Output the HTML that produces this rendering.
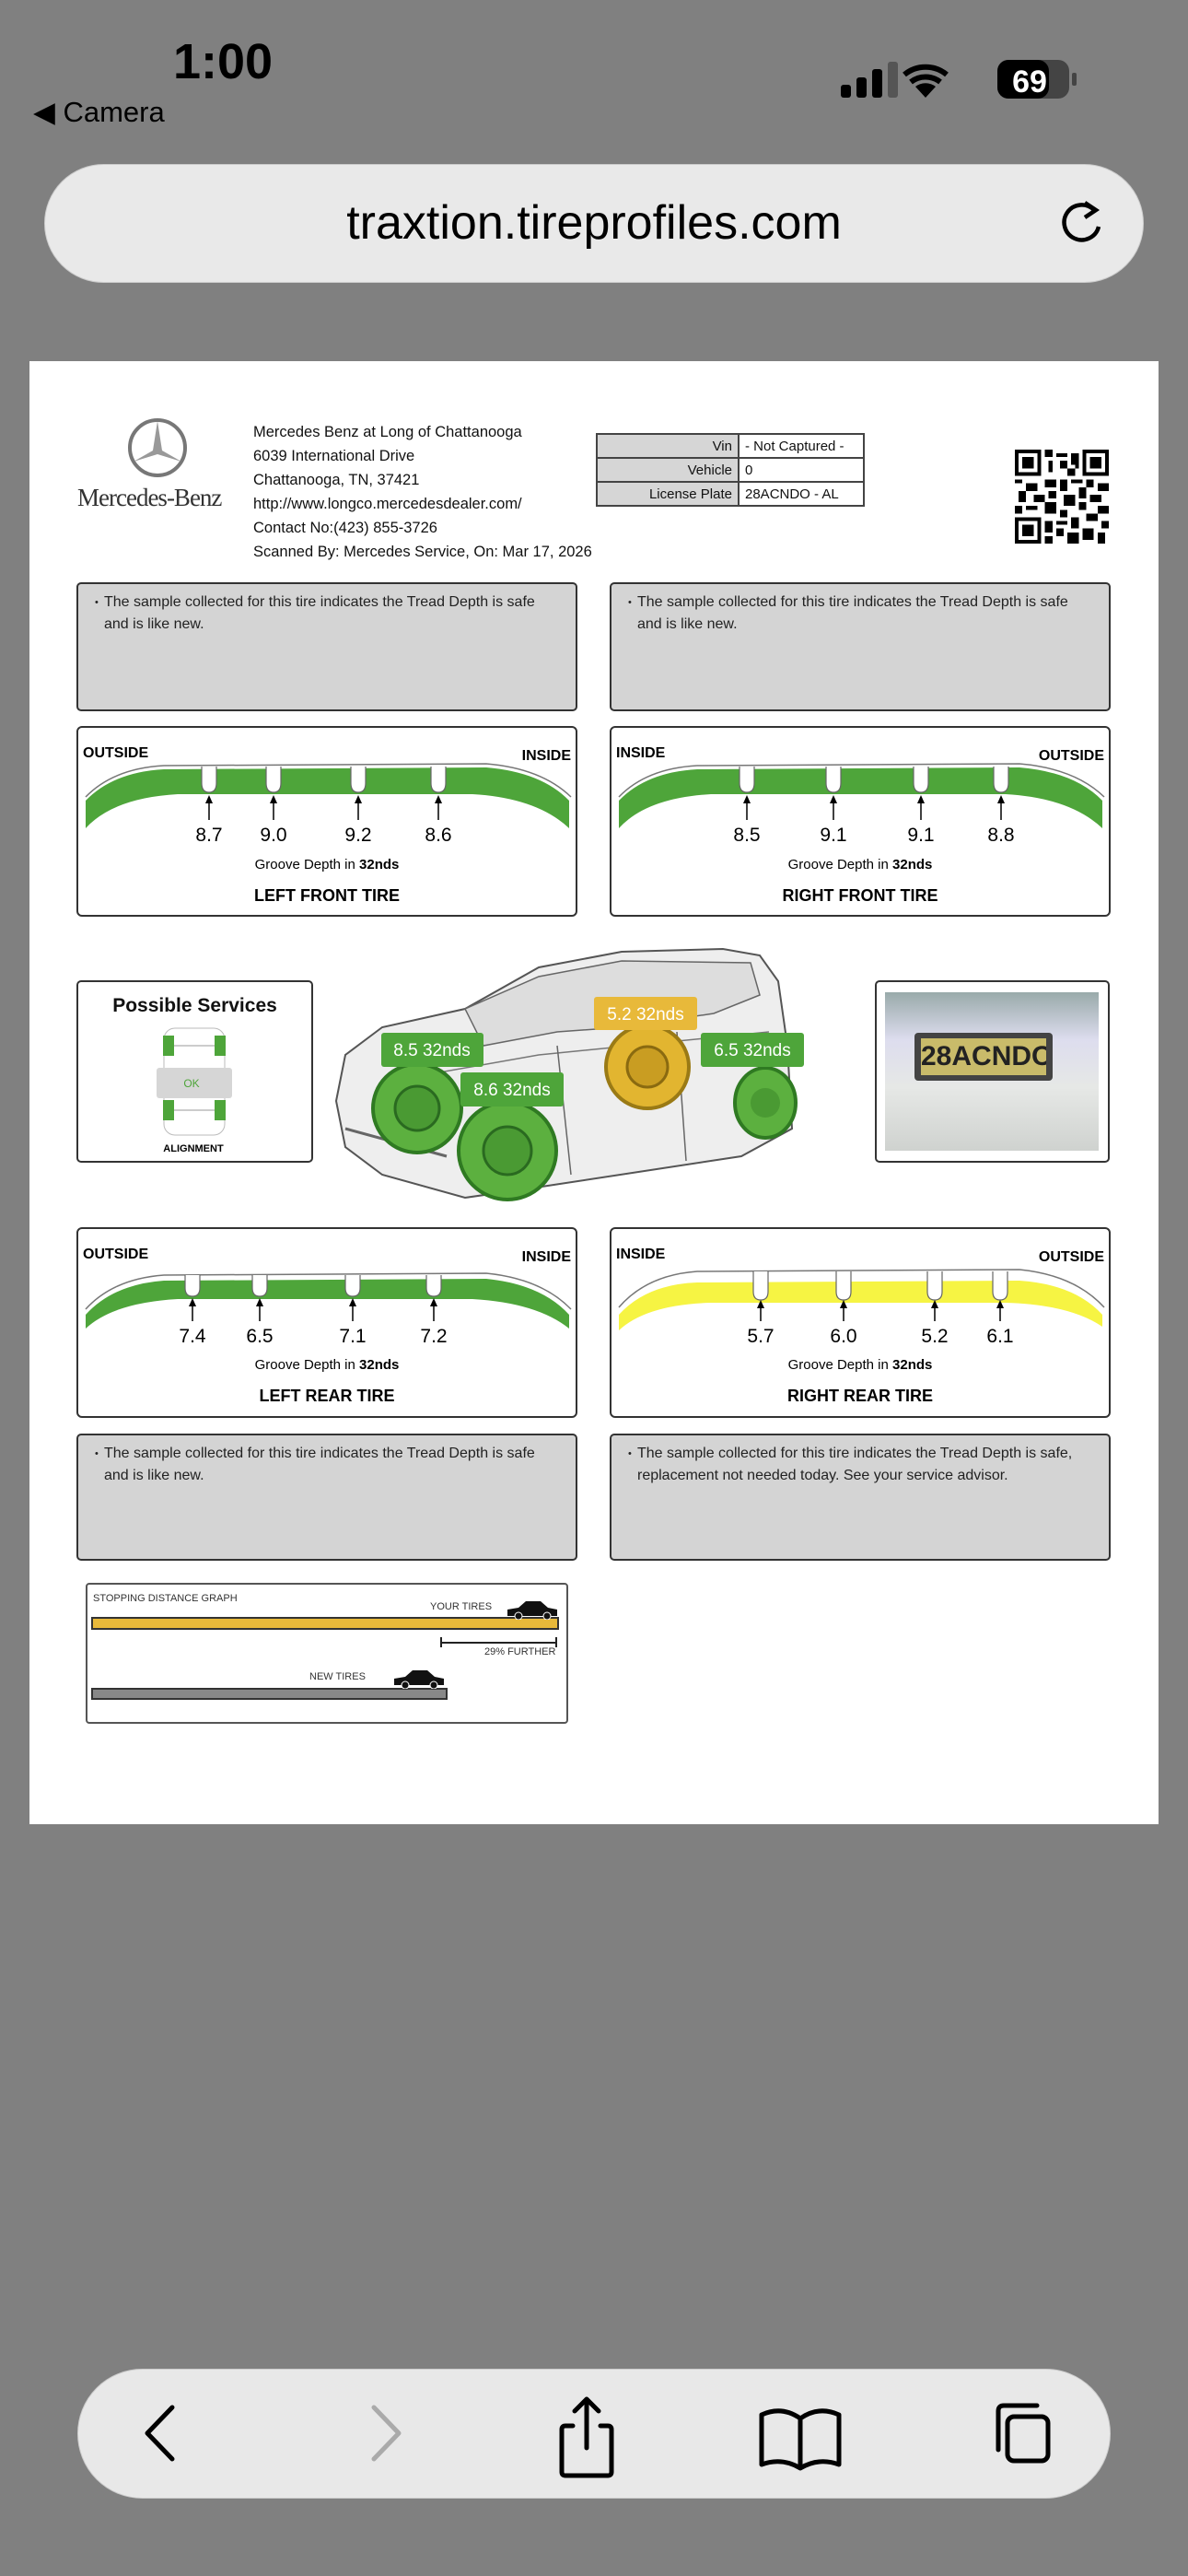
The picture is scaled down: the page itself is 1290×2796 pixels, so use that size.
<!DOCTYPE html>
<html><head><meta charset="utf-8"><style>
*{margin:0;padding:0;box-sizing:border-box}
body{width:1290px;height:2796px;background:#808080;position:relative;overflow:hidden;font-family:"Liberation Sans",sans-serif;color:#111}
.a{position:absolute}
.page{left:32px;top:392px;width:1226px;height:1588px;background:#fff}
.note{background:#d4d4d4;border:2px solid #333;border-radius:5px;font-size:16px;line-height:24px;padding:8px 14px 0 28px;color:#222}
.note span{position:relative}
.note span:before{content:"•";position:absolute;left:-10px;font-size:11px}
.box{background:#fff;border:2px solid #333;border-radius:5px}
.tbl{border-collapse:collapse;font-size:15px}
.tbl td{border:2px solid #444;height:26px;padding:0 6px}
.tbl td.l{background:#d6d6d6;text-align:right;width:154px}
.tbl td.r{width:136px;background:#fff}
</style></head><body>
<div class="a" style="left:188px;top:36px;font-size:54px;font-weight:bold;color:#000">1:00</div>
<div class="a" style="left:36px;top:104px;font-size:31px;color:#000">◀ Camera</div>
<svg class="a" style="left:910px;top:62px" width="260" height="50">
<rect x="3" y="30" width="11" height="14" rx="3"/><rect x="20" y="22" width="11" height="22" rx="3"/><rect x="37" y="13" width="11" height="31" rx="3"/><rect x="54" y="5" width="11" height="39" rx="3" fill="#555"/>
<path d="M95 44 L84 32 A18 18 0 0 1 106 32 Z" fill="#000"/><path d="M79 27 A26 26 0 0 1 111 27" stroke="#000" stroke-width="6" fill="none"/><path d="M72 19 A36 36 0 0 1 118 19" stroke="#000" stroke-width="6" fill="none"/>
<rect x="173" y="3" width="78" height="42" rx="12" fill="#444"/><rect x="173" y="3" width="56" height="42" rx="12" fill="#000"/><rect x="254" y="17" width="5" height="14" rx="2" fill="#444"/>
<text x="208" y="38" font-size="34" font-weight="bold" fill="#fff" text-anchor="middle" font-family="Liberation Sans">69</text></svg>
<div class="a" style="left:48px;top:178px;width:1194px;height:129px;border-radius:65px;background:#e9e9e9;border:1px solid #ccc"></div>
<div class="a" style="left:48px;top:212px;width:1194px;text-align:center;font-size:52px;color:#000">traxtion.tireprofiles.com</div>
<svg class="a" style="left:1148px;top:214px" width="54" height="54"><path d="M40 14 A19 19 0 1 0 45 32" stroke="#000" stroke-width="4.5" fill="none"/><path d="M30 6 L42 14 L30 22" stroke="#000" stroke-width="4.5" fill="none"/></svg>
<div class="a page"></div>
<svg class="a" style="left:138px;top:453px" width="66" height="66"><circle cx="33" cy="33" r="30" fill="none" stroke="#777" stroke-width="4"/><path d="M33 4 L38 36 L59 48 L33 40 L7 48 L28 36 Z" fill="#999"/></svg>
<div class="a" style="left:84px;top:525px;font-family:'Liberation Serif',serif;font-size:27px;color:#333;letter-spacing:-1px">Mercedes-Benz</div>
<div class="a" style="left:275px;top:456px;font-size:16.5px;line-height:26px;color:#111">Mercedes Benz at Long of Chattanooga<br>6039 International Drive<br>Chattanooga, TN, 37421<br>http://www.longco.mercedesdealer.com/<br>Contact No:(423) 855-3726<br>Scanned By: Mercedes Service, On: Mar 17, 2026</div>
<table class="a tbl" style="left:647px;top:470px"><tr><td class="l">Vin</td><td class="r">- Not Captured -</td></tr><tr><td class="l">Vehicle</td><td class="r">0</td></tr><tr><td class="l">License Plate</td><td class="r">28ACNDO - AL</td></tr></table>
<svg class="a" style="left:1102px;top:487px" width="102" height="104" viewBox="0 0 25 25" shape-rendering="crispEdges">
<rect width="25" height="25" fill="#fff"/>
<path d="M0 0h7v7h-7zM1 1v5h5v-5zM2 2h3v3h-3zM18 0h7v7h-7zM19 1v5h5v-5zM20 2h3v3h-3zM0 18h7v7h-7zM1 19v5h5v-5zM2 20h3v3h-3z" fill="#000" fill-rule="evenodd"/>
<path d="M8 0h2v2h-2zM11 1h3v1h-3zM9 3h1v3h-1zM12 3h2v2h-2zM15 1h2v3h-2zM14 5h2v2h-2zM8 8h3v2h-3zM0 8h2v1h-2zM3 9h3v2h-3zM1 11h2v3h-2zM12 8h2v3h-2zM15 8h3v1h-3zM19 8h2v2h-2zM22 9h3v2h-3zM17 10h2v3h-2zM9 11h2v2h-2zM5 12h3v2h-3zM13 12h3v3h-3zM20 12h3v2h-3zM0 15h2v2h-2zM3 15h3v1h-3zM8 14h3v3h-3zM17 14h2v2h-2zM22 15h3v2h-3zM12 16h2v2h-2zM19 17h3v2h-3zM8 19h2v3h-2zM11 19h3v1h-3zM15 18h2v3h-2zM23 19h2v2h-2zM11 21h2v2h-2zM18 21h3v3h-3zM14 22h3v3h-3zM22 22h2v3h-2zM8 23h2v2h-2zM16 4h1v1h-1z" fill="#000"/></svg>
<div class="a note" style="left:83px;top:632px;width:544px;height:140px"><span>The sample collected for this tire indicates the Tread Depth is safe<br>and is like new.</span></div>
<div class="a note" style="left:662px;top:632px;width:544px;height:140px"><span>The sample collected for this tire indicates the Tread Depth is safe<br>and is like new.</span></div>
<div class="a note" style="left:83px;top:1556px;width:544px;height:138px"><span>The sample collected for this tire indicates the Tread Depth is safe<br>and is like new.</span></div>
<div class="a note" style="left:662px;top:1556px;width:544px;height:138px"><span>The sample collected for this tire indicates the Tread Depth is safe,<br>replacement not needed today. See your service advisor.</span></div>

<svg class="a" style="left:83px;top:788px" width="544" height="207" font-family="Liberation Sans">
<rect x="1" y="1" width="542" height="205" rx="5" fill="#fff" stroke="#333" stroke-width="2"/>
<path d="M10 81 Q40 50 95 47 L445 45 Q505 50 535 81 L535 111 Q500 78 430 74 L110 74 Q40 78 10 111 Z" fill="#4ea53a"/>
<path d="M10 77 Q40 46 95 43 L445 41 Q505 46 537 77" fill="none" stroke="#777" stroke-width="1.5"/>
<g fill="#fff" stroke="#666" stroke-width="1.2"><path d="M136 44 v18 q0 10 8 10 q8 0 8 -10 v-18"/><path d="M206 44 v18 q0 10 8 10 q8 0 8 -10 v-18"/><path d="M298 44 v18 q0 10 8 10 q8 0 8 -10 v-18"/><path d="M385 44 v18 q0 10 8 10 q8 0 8 -10 v-18"/></g>
<g stroke="#000" stroke-width="1.5"><line x1="144" y1="102" x2="144" y2="80"/><line x1="214" y1="102" x2="214" y2="80"/><line x1="306" y1="102" x2="306" y2="80"/><line x1="393" y1="102" x2="393" y2="80"/></g>
<g fill="#000"><path d="M140 84 L144 75 L148 84Z"/><path d="M210 84 L214 75 L218 84Z"/><path d="M302 84 L306 75 L310 84Z"/><path d="M389 84 L393 75 L397 84Z"/></g>
<g font-size="21" text-anchor="middle"><text x="144" y="125">8.7</text><text x="214" y="125">9.0</text><text x="306" y="125">9.2</text><text x="393" y="125">8.6</text></g>
<text x="272" y="155" font-size="15" text-anchor="middle">Groove Depth in <tspan font-weight="bold">32nds</tspan></text>
<text x="272" y="190" font-size="18" font-weight="bold" text-anchor="middle">LEFT FRONT TIRE</text>
<text x="7" y="34" font-size="16" font-weight="bold">OUTSIDE</text><text x="537" y="37" font-size="16" font-weight="bold" text-anchor="end">INSIDE</text>
</svg>
<svg class="a" style="left:662px;top:788px" width="544" height="207" font-family="Liberation Sans">
<rect x="1" y="1" width="542" height="205" rx="5" fill="#fff" stroke="#333" stroke-width="2"/>
<path d="M10 81 Q40 50 95 47 L445 45 Q505 50 535 81 L535 111 Q500 78 430 74 L110 74 Q40 78 10 111 Z" fill="#4ea53a"/>
<path d="M10 77 Q40 46 95 43 L445 41 Q505 46 537 77" fill="none" stroke="#777" stroke-width="1.5"/>
<g fill="#fff" stroke="#666" stroke-width="1.2"><path d="M141 44 v18 q0 10 8 10 q8 0 8 -10 v-18"/><path d="M235 44 v18 q0 10 8 10 q8 0 8 -10 v-18"/><path d="M330 44 v18 q0 10 8 10 q8 0 8 -10 v-18"/><path d="M417 44 v18 q0 10 8 10 q8 0 8 -10 v-18"/></g>
<g stroke="#000" stroke-width="1.5"><line x1="149" y1="102" x2="149" y2="80"/><line x1="243" y1="102" x2="243" y2="80"/><line x1="338" y1="102" x2="338" y2="80"/><line x1="425" y1="102" x2="425" y2="80"/></g>
<g fill="#000"><path d="M145 84 L149 75 L153 84Z"/><path d="M239 84 L243 75 L247 84Z"/><path d="M334 84 L338 75 L342 84Z"/><path d="M421 84 L425 75 L429 84Z"/></g>
<g font-size="21" text-anchor="middle"><text x="149" y="125">8.5</text><text x="243" y="125">9.1</text><text x="338" y="125">9.1</text><text x="425" y="125">8.8</text></g>
<text x="272" y="155" font-size="15" text-anchor="middle">Groove Depth in <tspan font-weight="bold">32nds</tspan></text>
<text x="272" y="190" font-size="18" font-weight="bold" text-anchor="middle">RIGHT FRONT TIRE</text>
<text x="7" y="34" font-size="16" font-weight="bold">INSIDE</text><text x="537" y="37" font-size="16" font-weight="bold" text-anchor="end">OUTSIDE</text>
</svg>
<svg class="a" style="left:83px;top:1332px" width="544" height="207" font-family="Liberation Sans">
<rect x="1" y="1" width="542" height="205" rx="5" fill="#fff" stroke="#333" stroke-width="2"/>
<path d="M10 95 Q40 62 95 58 L445 56 Q505 62 535 95 L535 110 Q500 82 430 78 L110 78 Q40 82 10 110 Z" fill="#4ea53a"/>
<path d="M10 89 Q40 56 95 52 L445 50 Q505 56 537 89" fill="none" stroke="#777" stroke-width="1.5"/>
<g fill="#fff" stroke="#666" stroke-width="1.2"><path d="M118 52 v14 q0 9 8 9 q8 0 8 -9 v-14"/><path d="M191 52 v14 q0 9 8 9 q8 0 8 -9 v-14"/><path d="M292 52 v14 q0 9 8 9 q8 0 8 -9 v-14"/><path d="M380 52 v14 q0 9 8 9 q8 0 8 -9 v-14"/></g>
<g stroke="#000" stroke-width="1.5"><line x1="126" y1="102" x2="126" y2="82"/><line x1="199" y1="102" x2="199" y2="82"/><line x1="300" y1="102" x2="300" y2="82"/><line x1="388" y1="102" x2="388" y2="82"/></g>
<g fill="#000"><path d="M122 86 L126 77 L130 86Z"/><path d="M195 86 L199 77 L203 86Z"/><path d="M296 86 L300 77 L304 86Z"/><path d="M384 86 L388 77 L392 86Z"/></g>
<g font-size="21" text-anchor="middle"><text x="126" y="125">7.4</text><text x="199" y="125">6.5</text><text x="300" y="125">7.1</text><text x="388" y="125">7.2</text></g>
<text x="272" y="154" font-size="15" text-anchor="middle">Groove Depth in <tspan font-weight="bold">32nds</tspan></text>
<text x="272" y="189" font-size="18" font-weight="bold" text-anchor="middle">LEFT REAR TIRE</text>
<text x="7" y="34" font-size="16" font-weight="bold">OUTSIDE</text><text x="537" y="37" font-size="16" font-weight="bold" text-anchor="end">INSIDE</text>
</svg>
<svg class="a" style="left:662px;top:1332px" width="544" height="207" font-family="Liberation Sans">
<rect x="1" y="1" width="542" height="205" rx="5" fill="#fff" stroke="#333" stroke-width="2"/>
<path d="M10 95 Q40 62 95 60 L445 58 Q505 62 535 95 L535 108 Q500 84 430 82 L110 82 Q40 84 10 112 Z" fill="#f6f443"/>
<path d="M10 87 Q40 52 95 48 L445 46 Q505 52 537 87" fill="none" stroke="#777" stroke-width="1.5"/>
<g fill="#fff" stroke="#666" stroke-width="1.2"><path d="M156 48 v22 q0 9 8 9 q8 0 8 -9 v-22"/><path d="M246 48 v22 q0 9 8 9 q8 0 8 -9 v-22"/><path d="M345 48 v22 q0 9 8 9 q8 0 8 -9 v-22"/><path d="M416 48 v22 q0 9 8 9 q8 0 8 -9 v-22"/></g>
<g stroke="#000" stroke-width="1.5"><line x1="164" y1="102" x2="164" y2="84"/><line x1="254" y1="102" x2="254" y2="84"/><line x1="353" y1="102" x2="353" y2="84"/><line x1="424" y1="102" x2="424" y2="84"/></g>
<g fill="#000"><path d="M160 88 L164 79 L168 88Z"/><path d="M250 88 L254 79 L258 88Z"/><path d="M349 88 L353 79 L357 88Z"/><path d="M420 88 L424 79 L428 88Z"/></g>
<g font-size="21" text-anchor="middle"><text x="164" y="125">5.7</text><text x="254" y="125">6.0</text><text x="353" y="125">5.2</text><text x="424" y="125">6.1</text></g>
<text x="272" y="154" font-size="15" text-anchor="middle">Groove Depth in <tspan font-weight="bold">32nds</tspan></text>
<text x="272" y="189" font-size="18" font-weight="bold" text-anchor="middle">RIGHT REAR TIRE</text>
<text x="7" y="34" font-size="16" font-weight="bold">INSIDE</text><text x="537" y="37" font-size="16" font-weight="bold" text-anchor="end">OUTSIDE</text>
</svg>

<div class="a box" style="left:83px;top:1064px;width:257px;height:198px"></div>
<div class="a" style="left:83px;top:1080px;width:257px;text-align:center;font-size:21px;font-weight:bold">Possible Services</div>
<svg class="a" style="left:170px;top:1112px" width="86" height="140" font-family="Liberation Sans">
<rect x="8" y="4" width="66" height="116" rx="12" fill="#fff" stroke="#bbb"/>
<rect x="7" y="12" width="12" height="22" fill="#4ea53a"/><rect x="63" y="12" width="12" height="22" fill="#4ea53a"/>
<rect x="7" y="82" width="12" height="22" fill="#4ea53a"/><rect x="63" y="82" width="12" height="22" fill="#4ea53a"/>
<line x1="19" y1="23" x2="63" y2="23" stroke="#999"/><line x1="19" y1="93" x2="63" y2="93" stroke="#999"/>
<rect x="0" y="47" width="82" height="33" rx="3" fill="#d6d6d6"/>
<text x="38" y="68" font-size="12" fill="#4ea53a" text-anchor="middle">OK</text>
<text x="40" y="138" font-size="11" font-weight="bold" text-anchor="middle">ALIGNMENT</text></svg>

<svg class="a" style="left:355px;top:1025px" width="540" height="290" font-family="Liberation Sans">
<path d="M10 170 L20 120 L60 90 L150 70 L230 25 L320 8 L430 5 L470 12 L490 40 L500 110 L505 200 L450 230 L220 265 L150 275 L60 250 L20 220 Z" fill="#eee" stroke="#555" stroke-width="2"/>
<path d="M150 70 L170 110 L250 95 L320 90 L420 75 L470 55 L460 20 L320 18 L230 35 Z" fill="#ddd" stroke="#666" stroke-width="1.5"/>
<path d="M60 150 L230 120 L480 95" stroke="#777" fill="none" stroke-width="1.5"/>
<path d="M250 110 L265 250 M380 95 L390 235" stroke="#666" fill="none" stroke-width="1.5"/>
<path d="M20 200 L130 230" stroke="#666" stroke-width="3"/>
<g><circle cx="98" cy="178" r="48" fill="#5cb03f" stroke="#2f7a22" stroke-width="4"/><circle cx="98" cy="178" r="24" fill="#4a9a33" stroke="#2a6a20" stroke-width="3"/>
<circle cx="196" cy="224" r="53" fill="#5cb03f" stroke="#2f7a22" stroke-width="4"/><circle cx="196" cy="224" r="26" fill="#4a9a33" stroke="#2a6a20" stroke-width="3"/>
<circle cx="348" cy="133" r="45" fill="#e2b530" stroke="#9a7a15" stroke-width="4"/><circle cx="348" cy="133" r="22" fill="#c99d22" stroke="#8a6a10" stroke-width="3"/>
<ellipse cx="476" cy="172" rx="33" ry="38" fill="#5cb03f" stroke="#2f7a22" stroke-width="4"/><circle cx="476" cy="172" r="16" fill="#4a9a33"/></g>
<rect x="59" y="96" width="111" height="37" rx="3" fill="#4ea53a"/><text x="114" y="121" font-size="19" fill="#fff" text-anchor="middle">8.5 32nds</text>
<rect x="145" y="139" width="112" height="37" rx="3" fill="#4ea53a"/><text x="201" y="164" font-size="19" fill="#fff" text-anchor="middle">8.6 32nds</text>
<rect x="290" y="57" width="112" height="36" rx="3" fill="#e8b93a"/><text x="346" y="82" font-size="19" fill="#fff" text-anchor="middle">5.2 32nds</text>
<rect x="406" y="96" width="112" height="37" rx="3" fill="#4ea53a"/><text x="462" y="121" font-size="19" fill="#fff" text-anchor="middle">6.5 32nds</text>
</svg>

<div class="a box" style="left:950px;top:1064px;width:255px;height:198px"></div>
<div class="a" style="left:961px;top:1077px;width:232px;height:172px;background:linear-gradient(#9aa 0%,#dde 30%,#e6e8e6 60%,#cfd2cf 100%)"></div>
<div class="a" style="left:993px;top:1121px;width:150px;height:52px;background:#444;border-radius:4px"></div>
<div class="a" style="left:1000px;top:1127px;width:136px;height:40px;background:#c9bb6a;font-family:'Liberation Sans Narrow','Liberation Sans',sans-serif;font-size:30px;font-weight:bold;text-align:center;line-height:40px;color:#222;overflow:hidden">28ACNDO</div>

<div class="a" style="left:93px;top:1718px;width:524px;height:153px;border:2px solid #555;border-radius:4px;background:#fff"></div>
<div class="a" style="left:101px;top:1729px;font-size:11px;color:#333">STOPPING DISTANCE GRAPH</div>
<div class="a" style="left:467px;top:1738px;font-size:11px;color:#333">YOUR TIRES</div>
<div class="a" style="left:99px;top:1755px;width:508px;height:14px;background:#e8b93a;border:2px solid #333"></div>
<div class="a" style="left:478px;top:1782px;width:127px;height:2px;background:#222"></div>
<div class="a" style="left:478px;top:1777px;width:2px;height:11px;background:#222"></div>
<div class="a" style="left:603px;top:1777px;width:2px;height:11px;background:#222"></div>
<div class="a" style="left:526px;top:1787px;font-size:11px;color:#333">29% FURTHER</div>
<div class="a" style="left:336px;top:1814px;font-size:11px;color:#333">NEW TIRES</div>
<div class="a" style="left:99px;top:1832px;width:387px;height:13px;background:#888;border:2px solid #333"></div>
<svg class="a" style="left:549px;top:1736px" width="58" height="22"><path d="M2 18 L2 11 L14 9 L22 2 L38 2 L46 9 L56 11 L56 18 Z" fill="#111"/><circle cx="14" cy="18" r="4" fill="#111" stroke="#fff"/><circle cx="45" cy="18" r="4" fill="#111" stroke="#fff"/></svg>
<svg class="a" style="left:426px;top:1811px" width="60" height="22"><path d="M2 18 L2 11 L14 9 L22 2 L38 2 L46 9 L56 11 L56 18 Z" fill="#111"/><circle cx="14" cy="18" r="4" fill="#111" stroke="#fff"/><circle cx="45" cy="18" r="4" fill="#111" stroke="#fff"/></svg>

<div class="a" style="left:84px;top:2571px;width:1122px;height:141px;border-radius:71px;background:#e8e8e8;border:1px solid #ccc"></div>
<svg class="a" style="left:84px;top:2571px" width="1122" height="141" fill="none" stroke="#000" stroke-width="5" stroke-linecap="round" stroke-linejoin="round">
<path d="M103 42 L76 70 L103 98"/>
<path d="M322 42 L349 70 L322 98" stroke="#aaa"/>
<path d="M538 62 L530 62 Q526 62 526 66 L526 112 Q526 116 530 116 L576 116 Q580 116 580 112 L580 66 Q580 62 576 62 L568 62"/><path d="M553 86 L553 34 M540 46 L553 33 L566 46"/>
<path d="M785 108 Q765 96 743 104 L743 50 Q765 40 785 54 Q805 40 827 50 L827 104 Q805 96 785 108 Z M785 54 L785 106"/>
<rect x="1010" y="52" width="44" height="48" rx="7"/><path d="M1000 88 L1000 46 Q1000 40 1006 40 L1042 40"/>
</svg>
</body></html>
